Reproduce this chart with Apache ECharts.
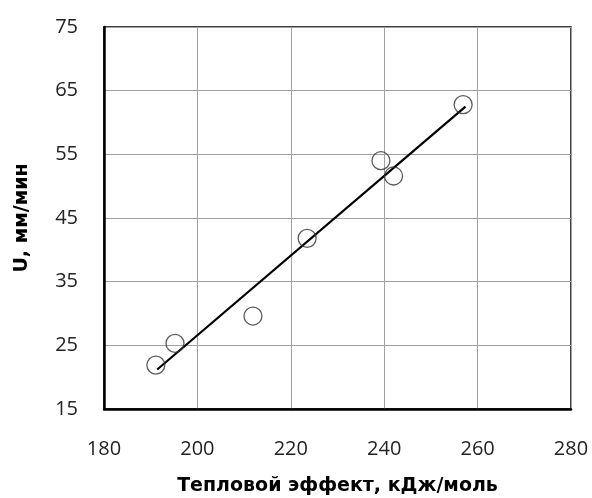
<!DOCTYPE html>
<html><head><meta charset="utf-8">
<script src="https://cdn.jsdelivr.net/npm/echarts@6/dist/echarts.min.js"></script>
<style>html,body{margin:0;padding:0;background:#fff}#c{width:592px;height:498px}</style>
</head><body><div id="c"></div>
<script>
var heatEffect = [191.1, 195.2, 211.9, 223.5, 239.3, 242.0, 256.9];
var speedU = [21.9, 25.3, 29.6, 41.8, 54.0, 51.6, 62.8];
var fitX = [191.4, 257.4];
var fitY = [21.2, 62.5];
var xTitle = 'Тепловой эффект, кДж/моль';
var yTitle = 'U, мм/мин';

var points = heatEffect.map(function (x, i) { return [x, speedU[i]]; });
var fit = fitX.map(function (x, i) { return [x, fitY[i]]; });
var font = 'Open Sans';
var chart = echarts.init(document.getElementById('c'), null, {renderer: 'canvas'});
chart.setOption({
  animation: false,
  grid: {left: 104, right: 21, top: 27, bottom: 89, containLabel: false, outerBoundsMode: 'none',
         show: true, borderColor: '#000', borderWidth: 1.5, backgroundColor: 'transparent'},
  xAxis: {
    type: 'value', min: 180, max: 280, interval: 20,
    name: xTitle, nameLocation: 'middle', nameGap: 68,
    nameTextStyle: {fontFamily: 'DejaVu Sans', fontWeight: 'bold', fontSize: 19, color: '#000'},
    axisLine: {show: true, lineStyle: {color: '#000', width: 2.5}},
    axisTick: {show: false},
    axisLabel: {margin: 30, fontFamily: font, fontSize: 20, color: '#222'},
    splitLine: {show: true, lineStyle: {color: '#a0a0a0', width: 1}}
  },
  yAxis: {
    type: 'value', min: 15, max: 75, interval: 10,
    name: yTitle, nameLocation: 'middle', nameGap: 72, nameRotate: 90,
    nameTextStyle: {fontFamily: 'DejaVu Sans', fontWeight: 'bold', fontSize: 19, color: '#000'},
    axisLine: {show: true, lineStyle: {color: '#000', width: 2.5}},
    axisTick: {show: false},
    axisLabel: {margin: 26, fontFamily: font, fontSize: 20, color: '#222'},
    splitLine: {show: true, lineStyle: {color: '#a0a0a0', width: 1}}
  },
  series: [
    {type: 'line', data: fit, showSymbol: false, symbol: 'none', lineStyle: {color: '#000', width: 2.2}, z: 3},
    {type: 'scatter', data: points, symbol: 'circle', symbolSize: 18,
     itemStyle: {color: 'rgba(255,255,255,0)', borderColor: '#333', borderWidth: 1.3}, z: 4}
  ]
});
</script></body></html>
